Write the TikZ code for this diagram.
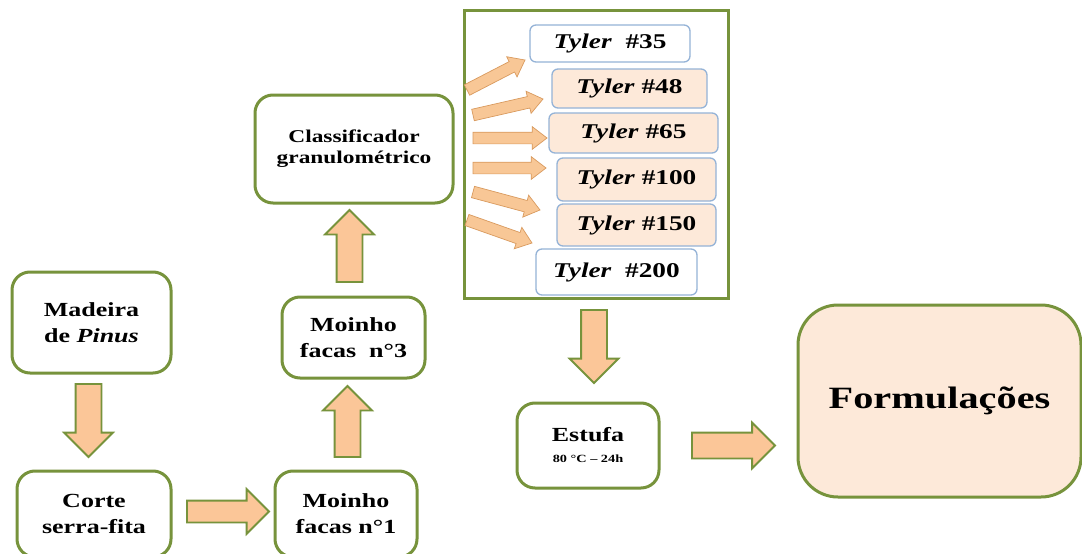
\documentclass[tikz,border=0pt]{standalone}
\usepackage{fontspec}
\setmainfont{Liberation Serif}[FakeStretch=1.3]
\usetikzlibrary{shapes.arrows,calc}
\definecolor{grn}{HTML}{77933C}
\definecolor{peach}{HTML}{FBC698}
\definecolor{thinpeach}{HTML}{F8C796}
\definecolor{pinkbg}{HTML}{FDE9D9}
\definecolor{tblue}{HTML}{95B3D7}
\definecolor{tanedge}{HTML}{D99A5E}
\tikzset{
  gbox/.style={draw=grn, line width=3pt, rounded corners=18pt, fill=white, align=center,
    inner sep=0pt, font=\fontsize{20}{26}\selectfont\bfseries},
  tbox/.style={draw=tblue, line width=1.3pt, rounded corners=6pt, inner sep=0pt,
    font=\fontsize{21}{24}\selectfont\bfseries},
  bigarrow/.style={single arrow, draw=grn, line width=1.8pt, fill=peach,
    inner xsep=0pt, inner ysep=12pt, minimum width=47pt, single arrow head extend=11.5pt,
    single arrow tip angle=90, outer sep=0pt},
  thinarrow/.style={single arrow, draw=tanedge, line width=0.7pt, fill=thinpeach,
    inner xsep=0pt, inner ysep=5.5pt, minimum width=22pt, single arrow head extend=5.5pt,
    single arrow tip angle=75, outer sep=0pt},
}
\newcommand\blockarrow[4]{%
  \path let \p1=($(#4)-(#3)$), \n1={atan2(\y1,\x1)}, \n2={veclen(\x1,\y1)} in
    node[#2, minimum height=\n2, rotate=\n1, anchor=tail] (#1) at (#3) {};}
\begin{document}
\begin{tikzpicture}[x=1pt,y=-1pt]
\fill[white] (0,0) rectangle (1082,554);
\useasboundingbox (0,0) rectangle (1082,554);

% boxes
\node[gbox, minimum width=159pt, minimum height=101pt] (mad) at (91.5,322.5) {Madeira\\de \textit{Pinus}};
\node[gbox, minimum width=154pt, minimum height=86pt] (cor) at (94,514) {Corte\\serra-fita};
\node[gbox, minimum width=142pt, minimum height=86pt] (m1) at (346,514) {Moinho\\facas n°1};
\node[gbox, minimum width=143pt, minimum height=81pt] (m3) at (353.5,337.5) {Moinho\\facas\ \ n°3};
\node[gbox, minimum width=198pt, minimum height=108pt, font=\fontsize{18}{21}\selectfont\bfseries] (cla) at (354,149) {Classificador\\granulométrico};
\node[draw=grn, line width=3pt, minimum width=264pt, minimum height=288pt, inner sep=0pt] (frame) at (596,154) {};
\node[gbox, minimum width=142pt, minimum height=85pt] (est) at (588,445.5) {Estufa\\[-5pt]{\fontsize{11}{12}\selectfont 80 °C – 24h}};
\node[gbox, fill=pinkbg, rounded corners=40pt, minimum width=283pt, minimum height=192pt, font=\fontsize{31}{36}\selectfont\bfseries] (for) at (939.5,401) {Formulações};

% Tyler boxes
\node[tbox, fill=white, minimum width=160pt, minimum height=37pt] (t35) at (610,43.5) {\textit{Tyler}\ \ \#35};
\node[tbox, fill=pinkbg, minimum width=155pt, minimum height=39pt] (t48) at (629.5,88.5) {\textit{Tyler} \#48};
\node[tbox, fill=pinkbg, minimum width=169pt, minimum height=40pt] (t65) at (633.5,133) {\textit{Tyler} \#65};
\node[tbox, fill=pinkbg, minimum width=159pt, minimum height=43pt] (t100) at (636.5,179.5) {\textit{Tyler} \#100};
\node[tbox, fill=pinkbg, minimum width=159pt, minimum height=42pt] (t150) at (636.5,225) {\textit{Tyler} \#150};
\node[tbox, fill=white, minimum width=161pt, minimum height=46pt] (t200) at (616.5,272) {\textit{Tyler}\ \ \#200};

% arrow end points
\coordinate (a1s) at (88.5,384);  \coordinate (a1e) at (88.5,457);
\coordinate (a2s) at (187,511.5); \coordinate (a2e) at (269,511.5);
\coordinate (a3s) at (347.5,457); \coordinate (a3e) at (347.5,386);
\coordinate (a4s) at (349.5,282); \coordinate (a4e) at (349.5,210);
\coordinate (a5s) at (594,310);   \coordinate (a5e) at (594,383);
\coordinate (a6s) at (692,445.5); \coordinate (a6e) at (775,445.5);

\blockarrow{A1}{bigarrow}{a1s}{a1e}
\blockarrow{A2}{bigarrow, inner ysep=10pt, minimum width=43pt, single arrow head extend=11.5pt}{a2s}{a2e}
\blockarrow{A3}{bigarrow}{a3s}{a3e}
\blockarrow{A4}{bigarrow}{a4s}{a4e}
\blockarrow{A5}{bigarrow}{a5s}{a5e}
\blockarrow{A6}{bigarrow, minimum width=45pt, single arrow head extend=10pt}{a6s}{a6e}

% thin arrows
\coordinate (b1s) at (467,90);  \coordinate (b1e) at (525,60);
\coordinate (b2s) at (473,115); \coordinate (b2e) at (543,99);
\coordinate (b3s) at (473,138); \coordinate (b3e) at (547,138);
\coordinate (b4s) at (473,168); \coordinate (b4e) at (546,168);
\coordinate (b5s) at (473,192); \coordinate (b5e) at (540,210);
\coordinate (b6s) at (467,220); \coordinate (b6e) at (532,243);
\blockarrow{B1}{thinarrow}{b1s}{b1e}
\blockarrow{B2}{thinarrow}{b2s}{b2e}
\blockarrow{B3}{thinarrow}{b3s}{b3e}
\blockarrow{B4}{thinarrow}{b4s}{b4e}
\blockarrow{B5}{thinarrow}{b5s}{b5e}
\blockarrow{B6}{thinarrow}{b6s}{b6e}
\end{tikzpicture}
\end{document}
